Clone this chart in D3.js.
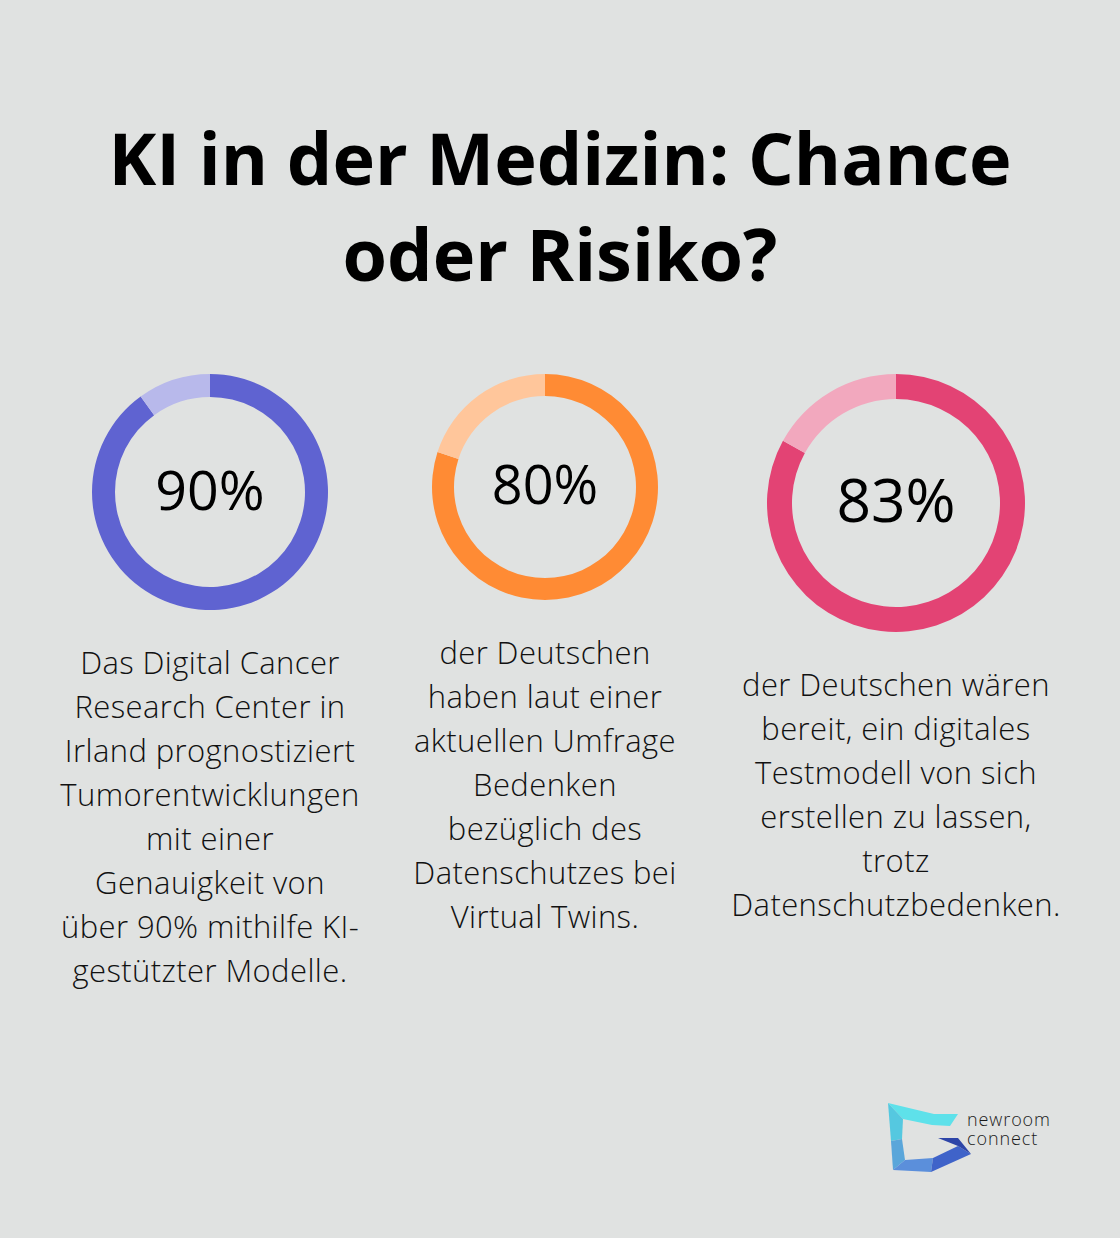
<!DOCTYPE html>
<html>
<head>
<meta charset="utf-8">
<script src="https://cdn.jsdelivr.net/npm/d3@7"></script>
<style>
  html, body { margin: 0; padding: 0; background: #e0e2e1; }
  svg { display: block; font-family: "Open Sans", sans-serif; }
</style>
</head>
<body>
<div id="chart"></div>
<script>
// chart data
var titleLines = ["KI in der Medizin: Chance", "oder Risiko?"];
var values = [90, 80, 83];
var labels = ["90%", "80%", "83%"];
var mainColors = ["#5f63d1", "#ff8b34", "#e34374"];
var lightColors = ["#b8b9eb", "#ffc69b", "#f2a8be"];
var descriptions = [
	["Das Digital Cancer", "Research Center in", "Irland prognostiziert", "Tumorentwicklungen", "mit einer", "Genauigkeit von", "über 90% mithilfe KI-", "gestützter Modelle."],
	["der Deutschen", "haben laut einer", "aktuellen Umfrage", "Bedenken", "bezüglich des", "Datenschutzes bei", "Virtual Twins."],
	["der Deutschen wären", "bereit, ein digitales", "Testmodell von sich", "erstellen zu lassen,", "trotz", "Datenschutzbedenken."]
];
var logoWords = ["newroom", "connect"];

var w = 1120, h = 1238;

// layout of each donut (center, radii, text)
var donuts = [
	{cx: 210, cy: 492, r: 118, inner: 95, font: 55.5, ty: 490, descY: 663},
	{cx: 545, cy: 487, r: 113, inner: 91, font: 54, ty: 485, descY: 653},
	{cx: 896, cy: 503, r: 129, inner: 104, font: 60.5, ty: 500, descY: 685}
];

var svg = d3.select("#chart")
	.append("svg")
	.attr("width", w)
	.attr("height", h);

svg.append("rect")
	.attr("width", w)
	.attr("height", h)
	.attr("fill", "#e0e2e1");

// title
svg.selectAll("text.title")
	.data(titleLines)
	.enter()
	.append("text")
	.attr("class", "title")
	.attr("x", w / 2)
	.attr("y", function(d, i) { return 185 + i * 96; })
	.attr("text-anchor", "middle")
	.attr("font-size", "72px")
	.attr("font-weight", 700)
	.attr("fill", "#000")
	.text(function(d) { return d; });

var pie = d3.pie().sort(null).value(function(d) { return d; });

donuts.forEach(function(cfg, i) {
	var g = svg.append("g")
		.attr("transform", "translate(" + cfg.cx + "," + cfg.cy + ")");

	var arc = d3.arc().innerRadius(cfg.inner).outerRadius(cfg.r);

	g.selectAll("path")
		.data(pie([values[i], 100 - values[i]]))
		.enter()
		.append("path")
		.attr("d", arc)
		.attr("fill", function(d, j) { return j === 0 ? mainColors[i] : lightColors[i]; });

	g.append("text")
		.attr("x", 0)
		.attr("y", cfg.ty - cfg.cy)
		.attr("dy", "0.36em")
		.attr("text-anchor", "middle")
		.attr("font-size", cfg.font + "px")
		.attr("font-weight", 500)
		.attr("fill", "#000")
		.text(labels[i]);

	// description below the donut
	svg.selectAll("text.desc" + i)
		.data(descriptions[i])
		.enter()
		.append("text")
		.attr("class", "desc" + i)
		.attr("x", cfg.cx)
		.attr("y", function(d, k) { return cfg.descY + k * 44; })
		.attr("dy", "0.35em")
		.attr("text-anchor", "middle")
		.attr("font-size", "31px")
		.attr("letter-spacing", "0.4px")
		.attr("font-weight", 300)
		.attr("fill", "#111")
		.text(function(d) { return d; });
});

// logo
var logo = svg.append("g");
var logoShapes = [
	{pts: [[888,1103],[934,1114],[958,1114],[950,1126],[932,1125],[903,1119]], fill: "#5ee1ea"},
	{pts: [[888,1103],[903,1119],[902,1139],[891,1141]], fill: "#55c8e0"},
	{pts: [[891,1141],[902,1139],[905,1160],[893,1170]], fill: "#5aa6da"},
	{pts: [[893,1170],[905,1160],[933,1158],[931,1172]], fill: "#5b8fdb"},
	{pts: [[931,1172],[933,1158],[958,1146],[971,1154]], fill: "#3f63c9"},
	{pts: [[938,1138],[958,1138],[971,1154],[958,1146]], fill: "#2d45a8"}
];
logo.selectAll("polygon")
	.data(logoShapes)
	.enter()
	.append("polygon")
	.attr("points", function(d) { return d.pts.map(function(p) { return p.join(","); }).join(" "); })
	.attr("fill", function(d) { return d.fill; });

logo.append("text")
	.attr("font-size", "18px")
	.attr("font-weight", 300)
	.attr("letter-spacing", "0.9px")
	.attr("fill", "#1a1a1a")
	.selectAll("tspan")
	.data(logoWords)
	.enter()
	.append("tspan")
	.attr("x", 967)
	.attr("y", function(d, i) { return 1126 + i * 19; })
	.text(function(d) { return d; });
</script>
</body>
</html>
